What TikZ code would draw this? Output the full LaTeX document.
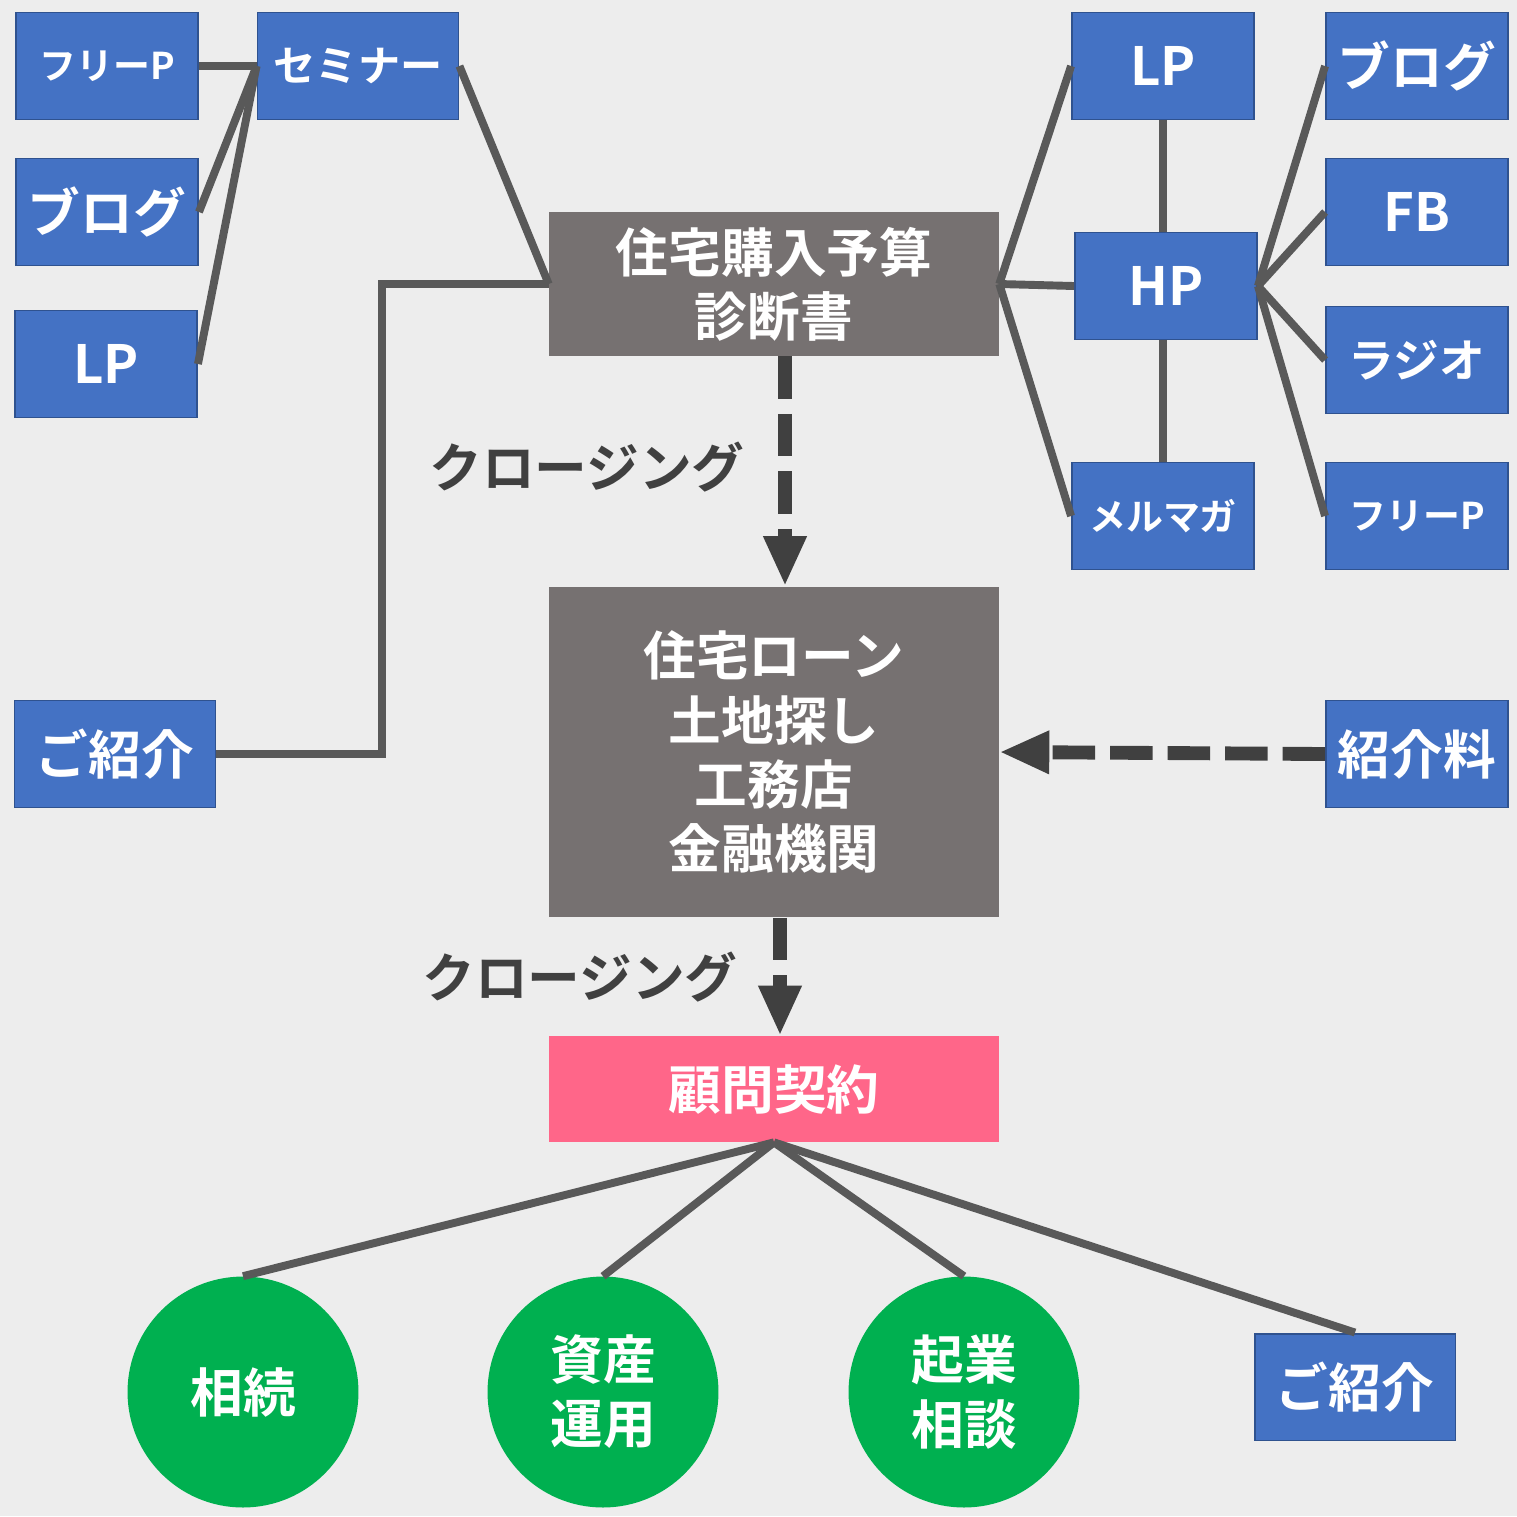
\documentclass[tikz,border=0pt]{standalone}
\usepackage{fontspec}
\setmainfont{Noto Sans CJK JP}[BoldFont={Noto Sans CJK JP Bold}]
\usetikzlibrary{positioning,arrows.meta}
\definecolor{boxblue}{HTML}{4472C4}
\definecolor{boxedge}{HTML}{2F528F}
\definecolor{boxgray}{HTML}{767171}
\definecolor{boxpink}{HTML}{FF6689}
\definecolor{boxgreen}{HTML}{00B050}
\definecolor{linegray}{HTML}{595959}
\definecolor{arrowgray}{HTML}{404040}
\definecolor{bgcloth}{HTML}{EDEDED}
\tikzset{
  big/.style={font=\bfseries\fontsize{30}{36.5}\selectfont},
  mid/.style={font=\bfseries\fontsize{24}{29}\selectfont},
  small/.style={font=\bfseries\fontsize{21}{25}\selectfont},
  bluebox/.style={rectangle, draw=boxedge, line width=1.1pt, fill=boxblue,
                  text=white, minimum width=3.64cm, minimum height=2.14cm, inner sep=0pt},
  widebox/.style={bluebox, minimum width=4.02cm},
  graybox/.style={rectangle, fill=boxgray, text=white, align=center,
                  minimum width=9cm, inner sep=0pt},
  greenball/.style={circle, fill=boxgreen, text=white, align=center,
                    minimum size=4.62cm, inner sep=0pt},
  link/.style={draw=linegray, line width=4.5pt},
  flow/.style={draw=arrowgray, line width=7.9pt, dash pattern=on 0.85cm off 0.3cm,
               -{Triangle[length=1cm,width=0.8cm]}},
}
\begin{document}
\begin{tikzpicture}[x=0.02cm, y=-0.02cm]
\fill[bgcloth] (0,0) rectangle (1517,1516);
\useasboundingbox (0,0) rectangle (1517,1516);

% left side
\node[bluebox, small] (fpL) at (107,66) {フリーP};
\node[bluebox, big] (blogL) at (107,212) {ブログ};
\node[bluebox, big] (lpL) at (106,364) {LP};
\node[widebox, mid] (seminar) at (358,66) {セミナー};
\node[widebox, big] (introL) at (115,754) {ご紹介};

% centre column
\node[graybox, big, minimum height=2.88cm] (diag) at (774,284) {住宅購入予算\\診断書};
\node[graybox, big, minimum height=6.62cm] (loan) at (774,752) {住宅ローン\\土地探し\\工務店\\金融機関};
\node[graybox, big, fill=boxpink, minimum height=2.12cm] (contract) at (774,1089) {顧問契約};
\node[big, text=arrowgray] (close1) at (587,467) {クロージング};
\node[big, text=arrowgray] (close2) at (580,977) {クロージング};

% right side
\node[bluebox, big] (lpR) at (1163,66) {LP};
\node[bluebox, big] (hp) at (1166,286) {HP};
\node[bluebox, small] (mail) at (1163,516) {メルマガ};
\node[bluebox, big] (blogR) at (1417,66) {ブログ};
\node[bluebox, big] (fb) at (1417,212) {FB};
\node[bluebox, font=\bfseries\fontsize{26}{31}\selectfont] (radio) at (1417,360) {ラジオ};
\node[bluebox, small] (fpR) at (1417,516) {フリーP};
\node[bluebox, big] (fee) at (1417,754) {紹介料};

% bottom row
\node[greenball, big] (inherit) at (243,1392) {相続};
\node[greenball, big] (asset) at (603,1392) {資産\\運用};
\node[greenball, big] (startup) at (964,1392) {起業\\相談};
\node[widebox, big] (introR) at (1355,1387) {ご紹介};

% connectors
\draw[link] (fpL.east) -- (seminar.west);
\draw[link] (blogL.east) -- (seminar.west);
\draw[link] (lpL.east) -- (seminar.west);
\draw[link] (seminar.east) -- (diag.west);
\draw[link] (introL.east) -- ++(166,0) |- (diag.west);
\draw[link] (diag.east) -- (lpR.west);
\draw[link] (diag.east) -- (hp.west);
\draw[link] (diag.east) -- (mail.west);
\draw[link] (lpR.south) -- (lpR.south |- hp.north);
\draw[link] (mail.north |- hp.south) -- (mail.north);
\foreach \t in {blogR,fb,radio,fpR}
  \draw[link] (hp.east) -- (\t.west);
\foreach \t in {inherit,asset,startup,introR}
  \draw[link] (contract.south) -- (\t.north);

\draw[flow] ([xshift=0.22cm]diag.south) -- ([xshift=0.22cm]loan.north);
\draw[flow] (fee.west) -- (loan.east);
\draw[flow] ([xshift=0.12cm]loan.south) -- ([xshift=0.12cm]contract.north);
\end{tikzpicture}
\end{document}
